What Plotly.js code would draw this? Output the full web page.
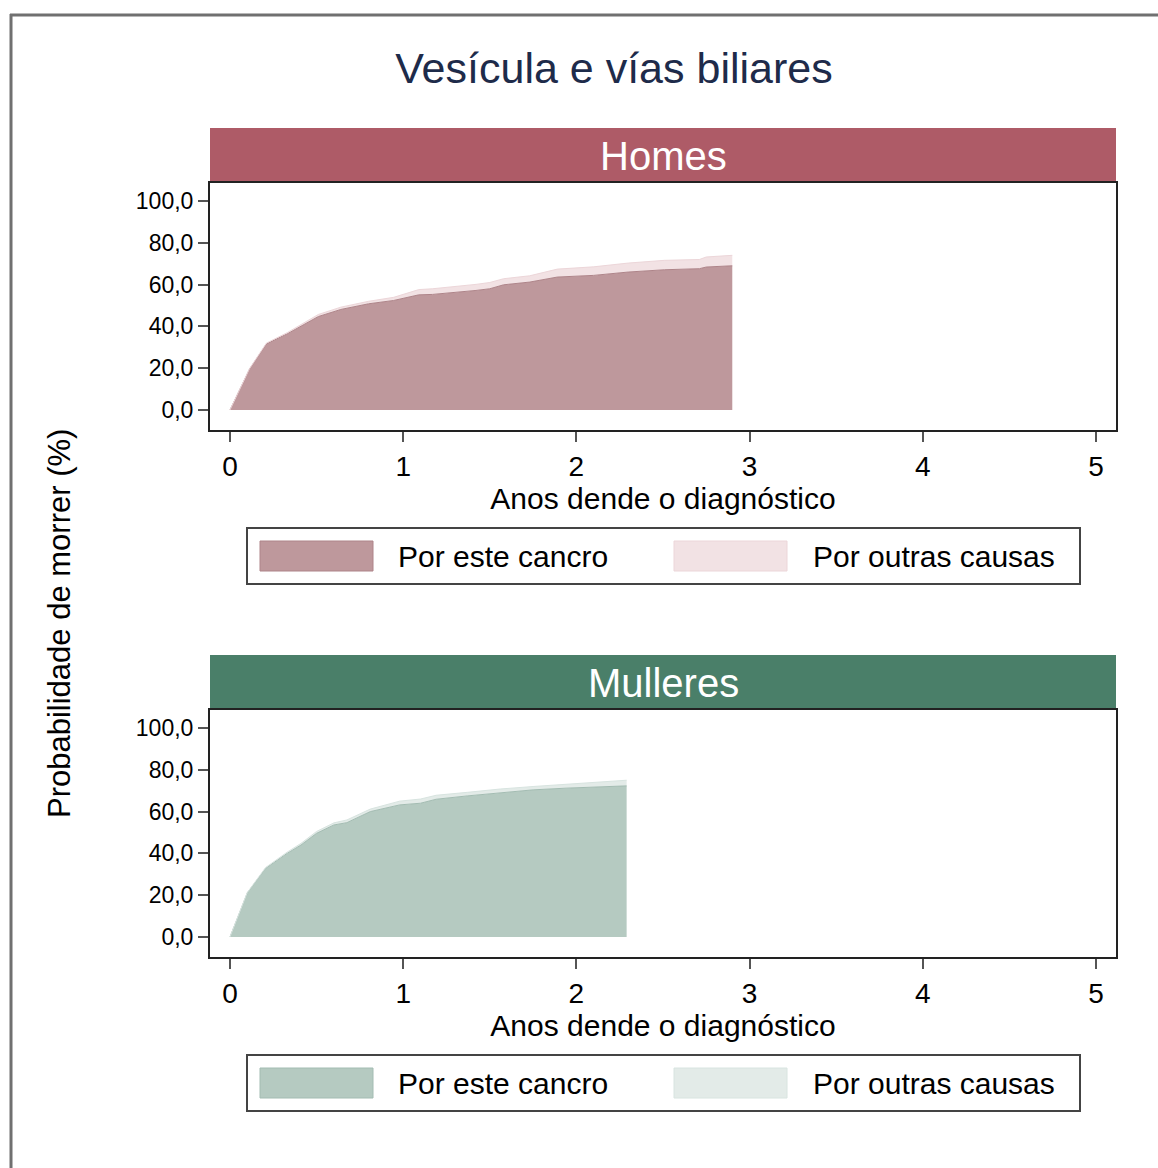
<!DOCTYPE html>
<html>
<head>
<meta charset="utf-8">
<script src="https://cdn.plot.ly/plotly-3.0.1.min.js"></script>
<style>
  html, body { margin: 0; padding: 0; background: #ffffff; }
  #chart { width: 1158px; height: 1168px; }
</style>
</head>
<body>
<div id="chart"></div>
<script>
// ---------- data ----------
const chartTitle = "Vesícula e vías biliares";
const panelTitles = ["Homes", "Mulleres"];
const seriesNames = ["Por este cancro", "Por outras causas"];
const xAxisTitle = "Anos dende o diagnóstico";
const yAxisTitle = "Probabilidade de morrer (%)";

const xTickVals = [0, 1, 2, 3, 4, 5];
const xTickText = ["0", "1", "2", "3", "4", "5"];
const yTickVals = [0, 20, 40, 60, 80, 100];
const yTickText = ["0,0", "20,0", "40,0", "60,0", "80,0", "100,0"];

// Homes
const homesYears  = [0, 0.113, 0.21, 0.33, 0.51, 0.64, 0.80, 0.945, 1.09, 1.17, 1.42, 1.50, 1.58, 1.73, 1.89, 2.10, 2.30, 2.51, 2.71, 2.75, 2.90];
const homesCancer = [0, 19.6, 31.6, 36.4, 44.7, 48.1, 50.8, 52.4, 55.1, 55.3, 57.2, 58.0, 59.9, 61.2, 63.6, 64.4, 66.0, 67.1, 67.6, 68.4, 69.0];
const homesOther  = [0, 0.2, 0.4, 0.6, 1.0, 1.1, 1.2, 1.5, 2.5, 2.7, 2.9, 3.0, 2.9, 3.0, 3.8, 4.1, 4.3, 4.5, 4.4, 4.8, 5.0];

// Mulleres
const mulleresYears  = [0, 0.10, 0.205, 0.33, 0.41, 0.50, 0.60, 0.675, 0.81, 0.98, 1.10, 1.19, 1.37, 1.56, 1.75, 1.94, 2.13, 2.29];
const mulleresCancer = [0, 21.1, 32.8, 40.0, 44.0, 49.6, 53.6, 54.7, 60.0, 63.2, 64.0, 65.9, 67.5, 69.1, 70.4, 71.2, 71.7, 72.3];
const mulleresOther  = [0, 0.2, 0.4, 0.6, 0.8, 0.9, 1.0, 1.3, 1.2, 1.8, 2.0, 1.9, 1.7, 1.7, 1.6, 1.8, 2.1, 2.7];

// ---------- styling ----------
const W = 1158, H = 1168;
const px = v => v / W;
const py = v => 1 - v / H;

const colors = {
  homesStrip: "#ae5b67",
  homesDark: "rgb(190,152,156)",
  homesDarkLine: "rgb(174,132,137)",
  homesLight: "rgb(242,226,228)",
  homesLightLine: "rgb(236,214,217)",
  mullStrip: "#4a7f69",
  mullDark: "rgb(181,202,193)",
  mullDarkLine: "rgb(163,188,178)",
  mullLight: "rgb(227,235,232)",
  mullLightLine: "rgb(216,228,224)"
};

const FONT = "'Liberation Sans', Arial, sans-serif";

const traces = [
  {
    x: homesYears, y: homesCancer, type: "scatter", mode: "lines",
    stackgroup: "h", fillcolor: colors.homesDark,
    line: { color: colors.homesDarkLine, width: 1 },
    name: seriesNames[0], showlegend: false, xaxis: "x", yaxis: "y"
  },
  {
    x: homesYears, y: homesOther, type: "scatter", mode: "lines",
    stackgroup: "h", fillcolor: colors.homesLight,
    line: { color: colors.homesLightLine, width: 1 },
    name: seriesNames[1], showlegend: false, xaxis: "x", yaxis: "y"
  },
  {
    x: mulleresYears, y: mulleresCancer, type: "scatter", mode: "lines",
    stackgroup: "m", fillcolor: colors.mullDark,
    line: { color: colors.mullDarkLine, width: 1 },
    name: seriesNames[0], showlegend: false, xaxis: "x2", yaxis: "y2"
  },
  {
    x: mulleresYears, y: mulleresOther, type: "scatter", mode: "lines",
    stackgroup: "m", fillcolor: colors.mullLight,
    line: { color: colors.mullLightLine, width: 1 },
    name: seriesNames[1], showlegend: false, xaxis: "x2", yaxis: "y2"
  }
];

function xAxis(domainTop, anchor) {
  return {
    domain: [px(210), px(1116)],
    range: [-0.1155, 5.1155],
    anchor: anchor,
    tickmode: "array", tickvals: xTickVals, ticktext: xTickText,
    ticks: "outside", ticklen: 10, tickwidth: 2, tickcolor: "#555",
    showline: true, linecolor: "#222", linewidth: 2, mirror: true,
    showgrid: false, zeroline: false,
    tickfont: { family: FONT, size: 28, color: "#000" },
    title: { text: xAxisTitle, font: { family: FONT, size: 30, color: "#000" }, standoff: 0 },
    fixedrange: true
  };
}
function yAxis(top, bottom, anchor) {
  return {
    domain: [py(bottom), py(top)],
    range: [-9.57, 108.6],
    anchor: anchor,
    tickmode: "array", tickvals: yTickVals, ticktext: yTickText,
    ticks: "outside", ticklen: 10, tickwidth: 2, tickcolor: "#555",
    showline: true, linecolor: "#222", linewidth: 2, mirror: true,
    showgrid: false, zeroline: false,
    tickfont: { family: FONT, size: 23, color: "#000" },
    fixedrange: true
  };
}

const shapes = [];
const annotations = [];

// outer frame (left & top edges visible)
shapes.push({ type: "line", xref: "paper", yref: "paper", x0: px(11), x1: px(11), y0: py(14), y1: py(1175), line: { color: "#707070", width: 3 } });
shapes.push({ type: "line", xref: "paper", yref: "paper", x0: px(10), x1: px(1170), y0: py(15), y1: py(15), line: { color: "#707070", width: 3 } });

// panel strips
const panels = [
  { top: 128, strip: colors.homesStrip, dark: colors.homesDark, darkLine: colors.homesDarkLine, light: colors.homesLight, lightLine: colors.homesLightLine, legTop: 528 },
  { top: 655, strip: colors.mullStrip, dark: colors.mullDark, darkLine: colors.mullDarkLine, light: colors.mullLight, lightLine: colors.mullLightLine, legTop: 1055 }
];
panels.forEach((p, i) => {
  shapes.push({ type: "rect", xref: "paper", yref: "paper", layer: "below",
    x0: px(210), x1: px(1116), y0: py(p.top + 55), y1: py(p.top),
    fillcolor: p.strip, line: { width: 0 } });
  annotations.push({ xref: "paper", yref: "paper", x: px(663), y: py(p.top + 28),
    xanchor: "center", yanchor: "middle", showarrow: false, text: panelTitles[i],
    font: { family: FONT, size: 40, color: "#ffffff" } });
  // legend box
  const lt = p.legTop;
  shapes.push({ type: "rect", xref: "paper", yref: "paper",
    x0: px(247), x1: px(1080), y0: py(lt + 56), y1: py(lt),
    fillcolor: "#ffffff", line: { color: "#444", width: 2 } });
  shapes.push({ type: "rect", xref: "paper", yref: "paper",
    x0: px(260), x1: px(373), y0: py(lt + 43), y1: py(lt + 13),
    fillcolor: p.dark, line: { color: p.darkLine, width: 1 } });
  shapes.push({ type: "rect", xref: "paper", yref: "paper",
    x0: px(674), x1: px(787), y0: py(lt + 43), y1: py(lt + 13),
    fillcolor: p.light, line: { color: p.lightLine, width: 1 } });
  annotations.push({ xref: "paper", yref: "paper", x: px(396), y: py(lt + 28),
    xanchor: "left", yanchor: "middle", showarrow: false, text: seriesNames[0],
    font: { family: FONT, size: 30, color: "#000" } });
  annotations.push({ xref: "paper", yref: "paper", x: px(811), y: py(lt + 28),
    xanchor: "left", yanchor: "middle", showarrow: false, text: seriesNames[1],
    font: { family: FONT, size: 30, color: "#000" } });
});

// shared y title
annotations.push({ xref: "paper", yref: "paper", x: px(59), y: py(624),
  xanchor: "center", yanchor: "middle", showarrow: false, textangle: -90,
  text: yAxisTitle, font: { family: FONT, size: 31, color: "#000" } });

const layout = {
  width: W, height: H,
  margin: { l: 0, r: 0, t: 0, b: 0, pad: 0 },
  paper_bgcolor: "#ffffff", plot_bgcolor: "#ffffff",
  showlegend: false,
  title: { text: chartTitle, x: px(614), xanchor: "center", y: py(68), yanchor: "middle",
    font: { family: FONT, size: 43, color: "#1e2b4a" } },
  xaxis: xAxis(183, "y"),
  yaxis: yAxis(183, 430, "x"),
  xaxis2: xAxis(710, "y2"),
  yaxis2: yAxis(710, 957, "x2"),
  shapes: shapes,
  annotations: annotations
};

Plotly.newPlot("chart", traces, layout, { displayModeBar: false, staticPlot: true });
</script>
</body>
</html>
